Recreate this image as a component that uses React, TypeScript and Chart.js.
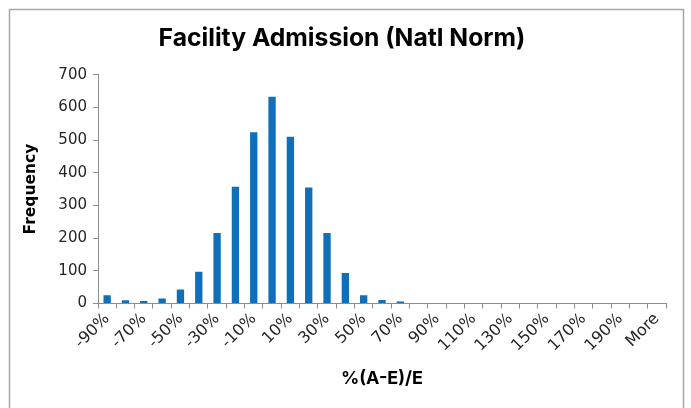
import { useEffect, useRef } from 'react';
import { Chart, registerables } from 'chart.js';

Chart.register(...registerables);

const chartTitle = 'Facility Admission (Natl Norm)';
const xTitle = '%(A-E)/E';
const yTitle = 'Frequency';

const categories = [
  '-90%', '-80%', '-70%', '-60%', '-50%', '-40%', '-30%', '-20%', '-10%', '0%',
  '10%', '20%', '30%', '40%', '50%', '60%', '70%', '80%', '90%', '100%',
  '110%', '120%', '130%', '140%', '150%', '160%', '170%', '180%', '190%', '200%',
  'More',
];

const frequency = [
  25, 10, 8, 15, 43, 97, 216, 357, 524, 632,
  510, 355, 216, 93, 25, 11, 6, 0, 0, 0,
  0, 0, 0, 0, 0, 0, 0, 0, 0, 0,
  0,
];

const yMin = 0;
const yMax = 700;
const yStep = 100;

const frame = {
  id: 'frame',
  beforeDraw(chart: any) {
    const { ctx, width, height } = chart;
    ctx.save();
    ctx.fillStyle = '#ffffff';
    ctx.fillRect(0, 0, width, height);
    ctx.strokeStyle = '#a6a6a6';
    ctx.lineWidth = 1.5;
    ctx.strokeRect(9.5, 9.5, 674, 420);
    ctx.restore();
  },
};

export default function App() {
  const ref = useRef<HTMLCanvasElement | null>(null);

  useEffect(() => {
    if (!ref.current) return;
    const axisColor = '#8c8c8c';
    const chart = new Chart(ref.current, {
      type: 'bar',
      data: {
        labels: categories,
        datasets: [
          {
            label: yTitle,
            data: frequency,
            backgroundColor: '#0f6fba',
            borderWidth: 0,
            barPercentage: 0.4,
            categoryPercentage: 1,
          },
        ],
      },
      options: {
        animation: false,
        responsive: false,
        layout: { padding: { left: 18, right: 25, top: 0, bottom: 0 } },
        plugins: {
          legend: { display: false },
          tooltip: { enabled: false },
          title: {
            display: true,
            text: chartTitle,
            color: '#000000',
            font: { family: 'Inter', size: 24.7, weight: 'bold' },
            padding: { top: 24, bottom: 21 },
          },
        },
        scales: {
          x: {
            grid: {
              display: true,
              drawOnChartArea: false,
              drawTicks: true,
              tickLength: 5,
              color: axisColor,
              offset: true,
            },
            border: { display: true, color: axisColor, width: 1 },
            ticks: {
              autoSkip: false,
              minRotation: 45,
              maxRotation: 45,
              padding: 1,
              color: '#262626',
              font: { family: 'DejaVu Sans', size: 16 },
              callback: (_v: any, i: number) => (i % 2 === 0 ? categories[i] : ''),
            },
            title: {
              display: true,
              text: xTitle,
              color: '#000000',
              font: { family: 'Inter', size: 18, weight: 'bold' },
              padding: { top: 4, bottom: 19 },
            },
            afterFit: (scale: any) => {
              scale.height = 104.5;
            },
          },
          y: {
            min: yMin,
            max: yMax,
            grid: {
              display: true,
              drawOnChartArea: false,
              drawTicks: true,
              tickLength: 5,
              color: axisColor,
            },
            border: { display: true, color: axisColor, width: 1 },
            ticks: {
              stepSize: yStep,
              padding: 6,
              color: '#262626',
              font: { family: 'DejaVu Sans', size: 15 },
            },
            title: {
              display: true,
              text: yTitle,
              color: '#000000',
              font: { family: 'DejaVu Sans', size: 15.5, weight: 'bold' },
              padding: { top: 4, bottom: 0 },
            },
            afterFit: (scale: any) => {
              scale.width = 80;
            },
          },
        },
      },
      plugins: [frame],
    });
    return () => chart.destroy();
  }, []);

  return (
    <div style={{ position: 'fixed', left: 0, top: 0, width: 691, height: 408 }}>
      <canvas ref={ref} width={691} height={408} style={{ width: 691, height: 408, display: 'block' }} />
    </div>
  );
}
